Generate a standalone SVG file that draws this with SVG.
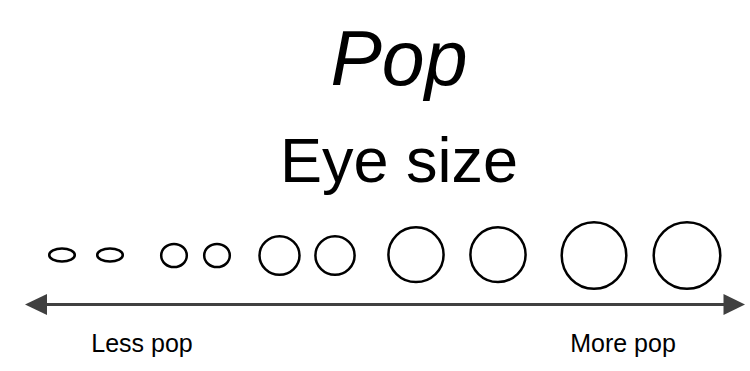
<svg xmlns="http://www.w3.org/2000/svg" width="750" height="371" viewBox="0 0 750 371">
<style>
.eye{fill:none;stroke:#000;stroke-width:2.5}
.t{font-family:"Liberation Sans",Arial,sans-serif;fill:#000;text-anchor:middle}
.axis{stroke:#404040;stroke-width:3;fill:none}
</style>
<rect width="750" height="371" fill="#fff"/>
<g id="title"><text class="t" x="399" y="85" font-size="77" font-style="italic">Pop</text></g>
<g id="subtitle"><text class="t" x="399" y="182" font-size="63">Eye size</text></g>
<g id="eye1"><ellipse class="eye" cx="62" cy="255" rx="12.8" ry="6.5"/></g>
<g id="eye2"><ellipse class="eye" cx="110" cy="255" rx="12.8" ry="6.5"/></g>
<g id="eye3"><ellipse class="eye" cx="174" cy="255.5" rx="12.8" ry="11.6"/></g>
<g id="eye4"><ellipse class="eye" cx="217" cy="255.5" rx="12.8" ry="11.6"/></g>
<g id="eye5"><ellipse class="eye" cx="279.5" cy="255.5" rx="20" ry="19.3"/></g>
<g id="eye6"><ellipse class="eye" cx="335" cy="255.5" rx="19.6" ry="19.3"/></g>
<g id="eye7"><ellipse class="eye" cx="416" cy="254.7" rx="27.6" ry="27.4"/></g>
<g id="eye8"><ellipse class="eye" cx="498" cy="254.7" rx="27.6" ry="27.4"/></g>
<g id="eye9"><ellipse class="eye" cx="594" cy="255.5" rx="32.3" ry="33.3"/></g>
<g id="eye10"><ellipse class="eye" cx="687" cy="255.5" rx="33.3" ry="33.3"/></g>
<g id="connectors">
<line class="axis" x1="44" y1="304.5" x2="726" y2="304.5"/>
<polygon points="25,304.5 47,294 47,315" fill="#404040"/>
<polygon points="745,304.5 723.5,294 723.5,315" fill="#404040"/>
</g>
<g id="less"><text class="t" x="142" y="352" font-size="25">Less pop</text></g>
<g id="more"><text class="t" x="623" y="352" font-size="25">More pop</text></g>
</svg>
